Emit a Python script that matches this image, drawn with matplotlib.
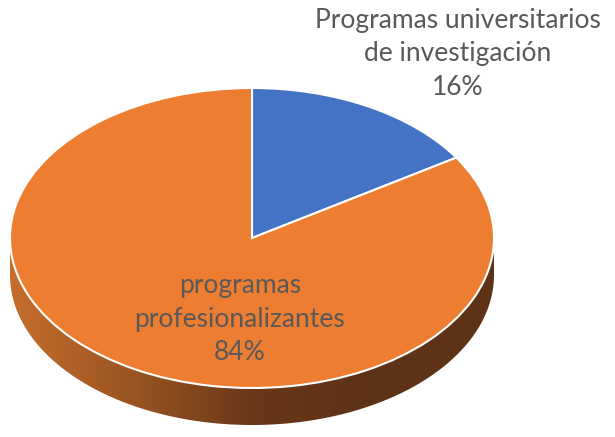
import numpy as np
import matplotlib
matplotlib.use('Agg')
import matplotlib.pyplot as plt
from matplotlib.transforms import Affine2D
from matplotlib.patches import Polygon
from matplotlib.colors import LinearSegmentedColormap

# Chart data
categories = ['Programas universitarios\nde investigación', 'programas\nprofesionalizantes']
values = [16, 84]
colors = ['#4472C4', '#ED7D31']

W, H = 615, 437
fig = plt.figure(figsize=(6.15, 4.37), dpi=100)
ax = fig.add_axes([0, 0, 1, 1])

# Pie geometry in pixel units (y up)
cx, cy = 252, H - 238
rx, ry = 242, 150
depth = 37

wedges, _ = ax.pie(values, colors=colors, startangle=90, counterclock=False,
                   center=(cx, cy), radius=rx,
                   wedgeprops=dict(edgecolor='white', linewidth=1.5))
squash = Affine2D().translate(-cx, -cy).scale(1, ry / rx).translate(cx, cy) + ax.transData
for w in wedges:
    w.set_transform(squash)
    w.set_zorder(3)

ax.set_xlim(0, W)
ax.set_ylim(0, H)
ax.set_aspect('auto')
ax.axis('off')

# 3D side of the pie (front half), shaded with a horizontal gradient
t = np.linspace(np.pi, 2 * np.pi, 200)
top = np.column_stack([cx + rx * np.cos(t), cy + ry * np.sin(t)])
bottom = top[::-1] - [0, depth]
side = Polygon(np.vstack([top, bottom]), closed=True, facecolor='none', edgecolor='none')
ax.add_patch(side)
side_cmap = LinearSegmentedColormap.from_list(
    'side', ['#c66d2c', '#9a5522', '#6a3718', '#5e3216', '#5e3216'])
grad = np.linspace(0, 1, 256).reshape(1, -1)
img = ax.imshow(grad, cmap=side_cmap, aspect='auto', zorder=2,
                extent=(cx - rx, cx + rx, cy - ry - depth, cy))
img.set_clip_path(side)

# Labels
txt = dict(ha='center', va='center', fontsize=19, color='#595959',
           family='Lato', linespacing=1.42)
ax.text(458, H - 54, f'{categories[0]}\n{values[0]}%', zorder=5, **txt)
ax.text(240, H - 319, f'{categories[1]}\n{values[1]}%', zorder=5, **txt)

fig.savefig('out.png', dpi=100)
